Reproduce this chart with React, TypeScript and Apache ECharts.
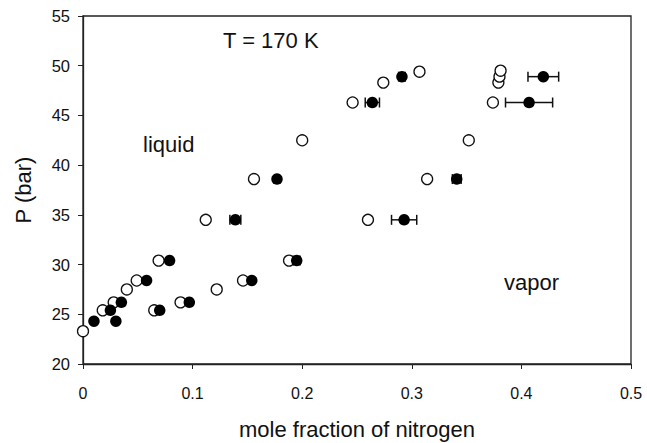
import React, { useEffect, useRef } from "react";
import * as echarts from "echarts";

// Open circles: measured compositions (x = mole fraction N2, y = P in bar)
const openX = [0, 0.018, 0.028, 0.040, 0.049, 0.069, 0.065, 0.089, 0.122, 0.146, 0.188, 0.112, 0.156, 0.200, 0.246, 0.274, 0.307, 0.374, 0.379, 0.380, 0.381, 0.352, 0.314, 0.260];
const openY = [23.3, 25.4, 26.2, 27.5, 28.4, 30.4, 25.4, 26.2, 27.5, 28.4, 30.4, 34.5, 38.6, 42.5, 46.3, 48.3, 49.4, 46.3, 48.3, 48.9, 49.5, 42.5, 38.6, 34.5];

// Filled circles with horizontal error bars (half-widths)
const filledX = [0.010, 0.025, 0.030, 0.035, 0.058, 0.079, 0.070, 0.097, 0.154, 0.195, 0.139, 0.177, 0.264, 0.291, 0.341, 0.293, 0.420, 0.407];
const filledY = [24.3, 25.4, 24.3, 26.2, 28.4, 30.4, 25.4, 26.2, 28.4, 30.4, 34.5, 38.6, 46.3, 48.9, 38.6, 34.5, 48.9, 46.3];
const filledErr = [0, 0, 0, 0, 0, 0, 0, 0, 0, 0.003, 0.005, 0, 0.0065, 0.003, 0.004, 0.0115, 0.014, 0.0215];

const xTicks = [0, 0.1, 0.2, 0.3, 0.4, 0.5];
const yTicks = [20, 25, 30, 35, 40, 45, 50, 55];

const FONT = "Liberation Sans, Arial, Helvetica, sans-serif";

export default function App() {
  const ref = useRef<HTMLDivElement>(null);
  useEffect(() => {
    if (!ref.current) return;
    const chart = echarts.init(ref.current, null, { renderer: "svg" });
    const errData = filledX.map((x, i) => [x, filledY[i], filledErr[i]]);
    chart.setOption({
      animation: false,
      backgroundColor: "#ffffff",
      textStyle: { fontFamily: FONT },
      grid: {
        left: 83, right: 16, top: 16, bottom: 79,
        containLabel: false, outerBoundsMode: "none",
        show: true, borderColor: "#222", borderWidth: 1.3, backgroundColor: "transparent",
      },
      xAxis: {
        type: "value",
        min: xTicks[0],
        max: xTicks[xTicks.length - 1],
        interval: 0.1,
        splitLine: { show: false },
        axisLine: { lineStyle: { color: "#222", width: 1.3 } },
        axisTick: { show: true, length: 5, lineStyle: { color: "#222", width: 1 } },
        axisLabel: { color: "#111", fontSize: 16, margin: 21, fontFamily: FONT, formatter: (v: number) => String(Math.round(v * 10) / 10) },
        name: "mole fraction of nitrogen",
        nameLocation: "middle",
        nameGap: 54,
        nameTextStyle: { color: "#111", fontSize: 22, fontFamily: FONT },
      },
      yAxis: {
        type: "value",
        min: yTicks[0],
        max: yTicks[yTicks.length - 1],
        interval: 5,
        splitLine: { show: false },
        axisLine: { show: true, lineStyle: { color: "#222", width: 1.3 } },
        axisTick: { show: true, length: 5, lineStyle: { color: "#222", width: 1 } },
        axisLabel: { color: "#111", fontSize: 16.5, margin: 13, fontFamily: FONT },
        name: "P (bar)",
        nameLocation: "middle",
        nameGap: 49,
        nameTextStyle: { color: "#111", fontSize: 22, fontFamily: FONT },
      },
      graphic: [
        { type: "text", left: 223, top: 29, style: { text: "T = 170 K", fontSize: 22, fill: "#111", fontFamily: FONT } },
        { type: "text", left: 143, top: 133, style: { text: "liquid", fontSize: 22, fill: "#111", fontFamily: FONT } },
        { type: "text", left: 504, top: 271, style: { text: "vapor", fontSize: 22, fill: "#111", fontFamily: FONT } },
      ],
      series: [
        {
          type: "custom",
          z: 2,
          data: errData,
          renderItem: (params: any, api: any) => {
            const x = api.value(0);
            const y = api.value(1);
            const e = api.value(2);
            if (!e) return { type: "group", children: [] };
            const p1 = api.coord([x - e, y]);
            const p2 = api.coord([x + e, y]);
            const cap = 5;
            const style = { stroke: "#111", lineWidth: 1.5 };
            return {
              type: "group",
              children: [
                { type: "line", shape: { x1: p1[0], y1: p1[1], x2: p2[0], y2: p2[1] }, style },
                { type: "line", shape: { x1: p1[0], y1: p1[1] - cap, x2: p1[0], y2: p1[1] + cap }, style },
                { type: "line", shape: { x1: p2[0], y1: p2[1] - cap, x2: p2[0], y2: p2[1] + cap }, style },
              ],
            };
          },
        },
        {
          type: "scatter",
          z: 3,
          symbol: "circle",
          symbolSize: 11,
          data: openX.map((x, i) => [x, openY[i]]),
          itemStyle: { color: "#ffffff", borderColor: "#111", borderWidth: 1.3, opacity: 1 },
        },
        {
          type: "scatter",
          z: 4,
          symbol: "circle",
          symbolSize: 11.5,
          data: filledX.map((x, i) => [x, filledY[i]]),
          itemStyle: { color: "#000000", opacity: 1 },
        },
      ],
    });
    return () => chart.dispose();
  }, []);
  return <div ref={ref} style={{ position: "fixed", left: 0, top: 0, width: 647, height: 443 }} />;
}
